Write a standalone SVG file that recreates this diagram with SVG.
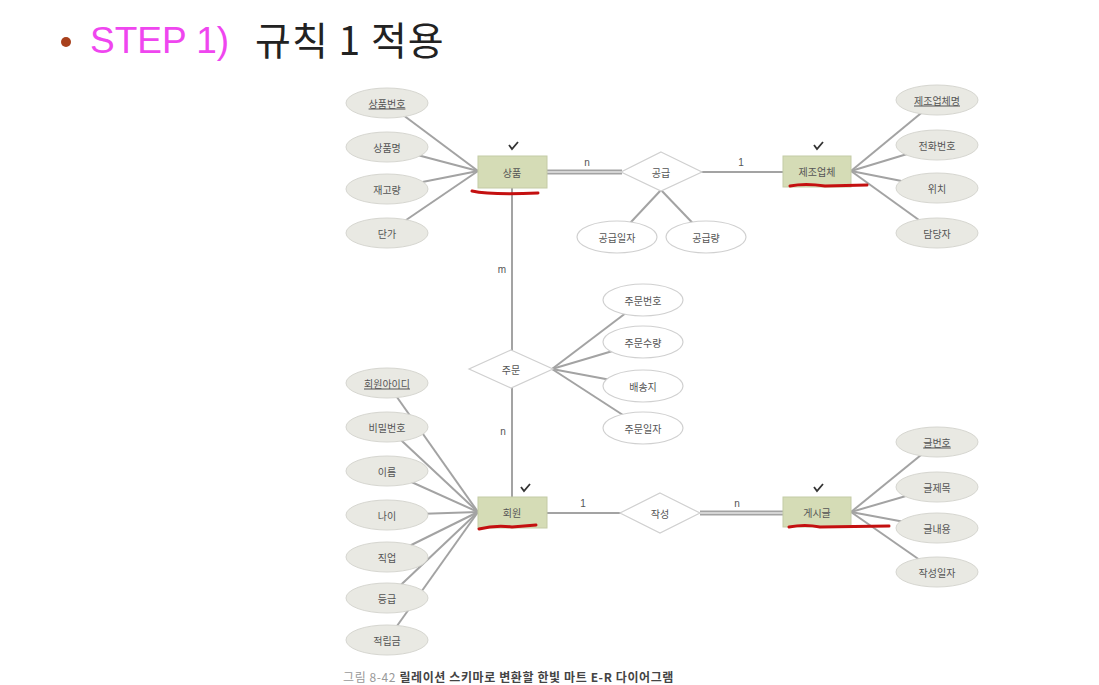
<svg xmlns="http://www.w3.org/2000/svg" width="1099" height="685" viewBox="0 0 1099 685">
<style>
.ln{stroke:#a3a3a3;stroke-width:2;fill:none}
.dbl{stroke:#a3a3a3;stroke-width:5;fill:none}
.dbli{stroke:#e6e6e6;stroke-width:1.6;fill:none}
.ent{fill:#d5dcb6;stroke:#c4cba6;stroke-width:1}
.att{fill:#e9e9e3;stroke:#d6d6d0;stroke-width:1}
.ratt{fill:#ffffff;stroke:#d0d0d0;stroke-width:1.2}
.rel{fill:#ffffff;stroke:#d0d0d0;stroke-width:1.2}
.t{font-family:"Noto Sans CJK KR","Noto Sans",sans-serif;font-size:10px;fill:#555;text-anchor:middle;dominant-baseline:central}
.lb{font-family:"Liberation Sans",sans-serif;font-size:10px;fill:#555;text-anchor:middle}
.red{stroke:#c41010;stroke-width:3;fill:none;stroke-linecap:round}
.chk{stroke:#333;stroke-width:1.8;fill:none}
</style>
<rect width="1099" height="685" fill="#ffffff"/>
<g id="title">
<circle cx="66" cy="42" r="5" fill="#a8401c"/>
<text x="90" y="53" font-family="Liberation Sans,Arial,sans-serif" font-size="37" fill="#ef46ef">STEP 1)</text>
<text x="255" y="55" font-family="'Noto Sans CJK KR',sans-serif" font-size="39" letter-spacing="1" fill="#222">규칙 1 적용</text>
</g>
<g id="connectors">
<line class="ln" x1="387" y1="103" x2="478" y2="171"/>
<line class="ln" x1="387" y1="147" x2="478" y2="171"/>
<line class="ln" x1="387" y1="189" x2="478" y2="171"/>
<line class="ln" x1="387" y1="233" x2="478" y2="171"/>
<line class="dbl" x1="547" y1="172" x2="622" y2="172"/>
<line class="dbli" x1="547" y1="172" x2="622" y2="172"/>
<line class="ln" x1="701" y1="172" x2="783" y2="172"/>
<line class="ln" x1="661" y1="190" x2="617" y2="237"/>
<line class="ln" x1="661" y1="190" x2="706" y2="237"/>
<line class="ln" x1="937" y1="100" x2="851" y2="171"/>
<line class="ln" x1="937" y1="145" x2="851" y2="171"/>
<line class="ln" x1="937" y1="188" x2="851" y2="171"/>
<line class="ln" x1="937" y1="233" x2="851" y2="171"/>
<line class="ln" x1="512" y1="188" x2="512" y2="351"/>
<line class="ln" x1="512" y1="388" x2="512" y2="497"/>
<line class="ln" x1="552" y1="369" x2="643" y2="300"/>
<line class="ln" x1="552" y1="369" x2="643" y2="342"/>
<line class="ln" x1="552" y1="369" x2="643" y2="386"/>
<line class="ln" x1="552" y1="369" x2="643" y2="428"/>
<line class="ln" x1="387" y1="383" x2="478" y2="512"/>
<line class="ln" x1="387" y1="427" x2="478" y2="512"/>
<line class="ln" x1="387" y1="471" x2="478" y2="512"/>
<line class="ln" x1="387" y1="515" x2="478" y2="512"/>
<line class="ln" x1="387" y1="557" x2="478" y2="512"/>
<line class="ln" x1="387" y1="598" x2="478" y2="512"/>
<line class="ln" x1="387" y1="640" x2="478" y2="512"/>
<line class="ln" x1="547" y1="513" x2="621" y2="513"/>
<line class="dbl" x1="700" y1="513" x2="783" y2="513"/>
<line class="dbli" x1="700" y1="513" x2="783" y2="513"/>
<line class="ln" x1="937" y1="442" x2="851" y2="512"/>
<line class="ln" x1="937" y1="487" x2="851" y2="512"/>
<line class="ln" x1="937" y1="528" x2="851" y2="512"/>
<line class="ln" x1="937" y1="572" x2="851" y2="512"/>
<text class="lb" x="587" y="166">n</text>
<text class="lb" x="741" y="166">1</text>
<text class="lb" x="502" y="273">m</text>
<text class="lb" x="503" y="435">n</text>
<text class="lb" x="583" y="507">1</text>
<text class="lb" x="737" y="507">n</text>
</g>
<g id="e-product">
<rect class="ent" x="478" y="156" width="69" height="32"/>
<text class="t" x="512" y="172">상품</text>
<path class="chk" d="M509 145 l3 4 l6 -7"/>
<path class="red" d="M472 191 Q490 195 538 193"/>
</g>
<g id="a-productno"><ellipse class="att" cx="387" cy="103" rx="41" ry="15"/><text class="t" x="387" y="103" text-decoration="underline">상품번호</text></g>
<g id="a-productname"><ellipse class="att" cx="387" cy="147" rx="41" ry="15"/><text class="t" x="387" y="147">상품명</text></g>
<g id="a-stock"><ellipse class="att" cx="387" cy="189" rx="41" ry="15"/><text class="t" x="387" y="189">재고량</text></g>
<g id="a-price"><ellipse class="att" cx="387" cy="233" rx="41" ry="15"/><text class="t" x="387" y="233">단가</text></g>
<g id="r-supply">
<polygon class="rel" points="661,152 702,172 661,191 621,172"/>
<text class="t" x="661" y="172">공급</text>
</g>
<g id="a-supplydate"><ellipse class="ratt" cx="617" cy="237" rx="40" ry="16"/><text class="t" x="617" y="237">공급일자</text></g>
<g id="a-supplyqty"><ellipse class="ratt" cx="706" cy="237" rx="40" ry="16"/><text class="t" x="706" y="237">공급량</text></g>
<g id="e-maker">
<rect class="ent" x="783" y="156" width="68" height="31"/>
<text class="t" x="817" y="171">제조업체</text>
<path class="chk" d="M814 145 l3 4 l6 -7"/>
<path class="red" d="M790 186 Q805 183 825 186 L867 185"/>
</g>
<g id="a-makername"><ellipse class="att" cx="937" cy="100" rx="41" ry="15"/><text class="t" x="937" y="100" text-decoration="underline">제조업체명</text></g>
<g id="a-phone"><ellipse class="att" cx="937" cy="145" rx="41" ry="15"/><text class="t" x="937" y="145">전화번호</text></g>
<g id="a-location"><ellipse class="att" cx="937" cy="188" rx="41" ry="15"/><text class="t" x="937" y="188">위치</text></g>
<g id="a-manager"><ellipse class="att" cx="937" cy="233" rx="41" ry="15"/><text class="t" x="937" y="233">담당자</text></g>
<g id="r-order">
<polygon class="rel" points="511,350 553,369 511,388 469,369"/>
<text class="t" x="511" y="369">주문</text>
</g>
<g id="a-orderno"><ellipse class="ratt" cx="643" cy="300" rx="40" ry="16"/><text class="t" x="643" y="300">주문번호</text></g>
<g id="a-orderqty"><ellipse class="ratt" cx="643" cy="342" rx="40" ry="16"/><text class="t" x="643" y="342">주문수량</text></g>
<g id="a-address"><ellipse class="ratt" cx="643" cy="386" rx="40" ry="16"/><text class="t" x="643" y="386">배송지</text></g>
<g id="a-orderdate"><ellipse class="ratt" cx="643" cy="428" rx="40" ry="16"/><text class="t" x="643" y="428">주문일자</text></g>
<g id="e-member">
<rect class="ent" x="478" y="497" width="69" height="31"/>
<text class="t" x="512" y="512">회원</text>
<path class="chk" d="M521 487 l3 4 l6 -7"/>
<path class="red" d="M479 529 Q495 525 512 527 L536 525"/>
</g>
<g id="a-memberid"><ellipse class="att" cx="387" cy="383" rx="41" ry="15"/><text class="t" x="387" y="383" text-decoration="underline">회원아이디</text></g>
<g id="a-password"><ellipse class="att" cx="387" cy="427" rx="41" ry="15"/><text class="t" x="387" y="427">비밀번호</text></g>
<g id="a-name"><ellipse class="att" cx="387" cy="471" rx="41" ry="15"/><text class="t" x="387" y="471">이름</text></g>
<g id="a-age"><ellipse class="att" cx="387" cy="515" rx="41" ry="15"/><text class="t" x="387" y="515">나이</text></g>
<g id="a-job"><ellipse class="att" cx="387" cy="557" rx="41" ry="15"/><text class="t" x="387" y="557">직업</text></g>
<g id="a-grade"><ellipse class="att" cx="387" cy="598" rx="41" ry="15"/><text class="t" x="387" y="598">등급</text></g>
<g id="a-points"><ellipse class="att" cx="387" cy="640" rx="41" ry="15"/><text class="t" x="387" y="640">적립금</text></g>
<g id="r-write">
<polygon class="rel" points="660,493 700,513 660,533 620,513"/>
<text class="t" x="660" y="513">작성</text>
</g>
<g id="e-post">
<rect class="ent" x="783" y="497" width="68" height="30"/>
<text class="t" x="817" y="512">게시글</text>
<path class="chk" d="M814 487 l3 4 l6 -7"/>
<path class="red" d="M789 527 Q805 524 820 527 L889 526"/>
</g>
<g id="a-postno"><ellipse class="att" cx="937" cy="442" rx="41" ry="15"/><text class="t" x="937" y="442" text-decoration="underline">글번호</text></g>
<g id="a-posttitle"><ellipse class="att" cx="937" cy="487" rx="41" ry="15"/><text class="t" x="937" y="487">글제목</text></g>
<g id="a-postbody"><ellipse class="att" cx="937" cy="528" rx="41" ry="15"/><text class="t" x="937" y="528">글내용</text></g>
<g id="a-postdate"><ellipse class="att" cx="937" cy="572" rx="41" ry="15"/><text class="t" x="937" y="572">작성일자</text></g>
<g id="caption">
<text x="343" y="682" font-family="'Noto Sans CJK KR',sans-serif" font-size="12" letter-spacing="0.6" fill="#999">그림 8-42 <tspan font-weight="bold" fill="#444">릴레이션 스키마로 변환할 한빛 마트 E-R 다이어그램</tspan></text>
</g>
</svg>
